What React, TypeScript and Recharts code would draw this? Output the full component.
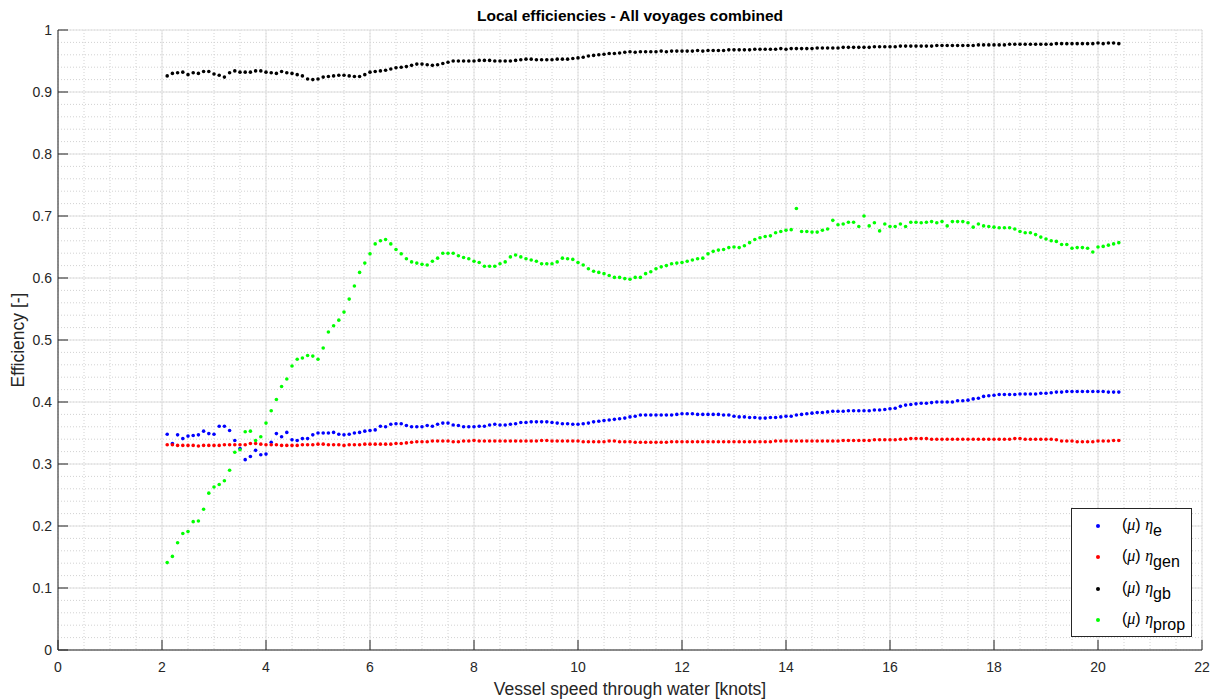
import React from 'react';
import { CartesianGrid, Legend, Scatter, ScatterChart, XAxis, YAxis } from 'recharts';

// speed bins [knots]
const speed = [
  2.1, 2.2, 2.3, 2.4, 2.5, 2.6, 2.7, 2.8, 2.9, 3.0,
  3.1, 3.2, 3.3, 3.4, 3.5, 3.6, 3.7, 3.8, 3.9, 4.0,
  4.1, 4.2, 4.3, 4.4, 4.5, 4.6, 4.7, 4.8, 4.9, 5.0,
  5.1, 5.2, 5.3, 5.4, 5.5, 5.6, 5.7, 5.8, 5.9, 6.0,
  6.1, 6.2, 6.3, 6.4, 6.5, 6.6, 6.7, 6.8, 6.9, 7.0,
  7.1, 7.2, 7.3, 7.4, 7.5, 7.6, 7.7, 7.8, 7.9, 8.0,
  8.1, 8.2, 8.3, 8.4, 8.5, 8.6, 8.7, 8.8, 8.9, 9.0,
  9.1, 9.2, 9.3, 9.4, 9.5, 9.6, 9.7, 9.8, 9.9, 10.0,
  10.1, 10.2, 10.3, 10.4, 10.5, 10.6, 10.7, 10.8, 10.9, 11.0,
  11.1, 11.2, 11.3, 11.4, 11.5, 11.6, 11.7, 11.8, 11.9, 12.0,
  12.1, 12.2, 12.3, 12.4, 12.5, 12.6, 12.7, 12.8, 12.9, 13.0,
  13.1, 13.2, 13.3, 13.4, 13.5, 13.6, 13.7, 13.8, 13.9, 14.0,
  14.1, 14.2, 14.3, 14.4, 14.5, 14.6, 14.7, 14.8, 14.9, 15.0,
  15.1, 15.2, 15.3, 15.4, 15.5, 15.6, 15.7, 15.8, 15.9, 16.0,
  16.1, 16.2, 16.3, 16.4, 16.5, 16.6, 16.7, 16.8, 16.9, 17.0,
  17.1, 17.2, 17.3, 17.4, 17.5, 17.6, 17.7, 17.8, 17.9, 18.0,
  18.1, 18.2, 18.3, 18.4, 18.5, 18.6, 18.7, 18.8, 18.9, 19.0,
  19.1, 19.2, 19.3, 19.4, 19.5, 19.6, 19.7, 19.8, 19.9, 20.0,
  20.1, 20.2, 20.3, 20.4,
];

// (mu) eta_e
const etaE = [
  0.348, 0.333, 0.347, 0.341, 0.345, 0.346, 0.347, 0.353, 0.349, 0.348,
  0.361, 0.361, 0.354, 0.338, 0.325, 0.307, 0.312, 0.322, 0.315, 0.316,
  0.335, 0.349, 0.344, 0.351, 0.339, 0.338, 0.341, 0.341, 0.347, 0.350,
  0.350, 0.350, 0.351, 0.348, 0.347, 0.348, 0.350, 0.351, 0.353, 0.354,
  0.355, 0.361, 0.360, 0.364, 0.365, 0.365, 0.362, 0.360, 0.360, 0.360,
  0.362, 0.361, 0.364, 0.366, 0.366, 0.363, 0.362, 0.360, 0.360, 0.360,
  0.361, 0.361, 0.363, 0.364, 0.363, 0.363, 0.364, 0.365, 0.367, 0.367,
  0.368, 0.368, 0.368, 0.368, 0.367, 0.366, 0.365, 0.365, 0.364, 0.364,
  0.365, 0.366, 0.368, 0.369, 0.370, 0.371, 0.372, 0.373, 0.374, 0.376,
  0.377, 0.379, 0.379, 0.379, 0.379, 0.379, 0.379, 0.379, 0.380, 0.381,
  0.381, 0.381, 0.380, 0.380, 0.380, 0.380, 0.380, 0.379, 0.379, 0.377,
  0.376, 0.376, 0.375, 0.375, 0.374, 0.374, 0.375, 0.375, 0.376, 0.377,
  0.377, 0.379, 0.380, 0.381, 0.382, 0.383, 0.383, 0.384, 0.385, 0.385,
  0.385, 0.386, 0.386, 0.386, 0.386, 0.386, 0.387, 0.387, 0.388, 0.389,
  0.390, 0.393, 0.395, 0.396, 0.397, 0.398, 0.398, 0.399, 0.400, 0.400,
  0.400, 0.400, 0.402, 0.402, 0.403, 0.405, 0.406, 0.409, 0.410, 0.411,
  0.412, 0.412, 0.412, 0.412, 0.413, 0.413, 0.413, 0.413, 0.414, 0.414,
  0.415, 0.416, 0.416, 0.417, 0.417, 0.417, 0.417, 0.417, 0.417, 0.417,
  0.417, 0.416, 0.416, 0.416,
];

// (mu) eta_gen
const etaGen = [
  0.331, 0.331, 0.330, 0.330, 0.330, 0.330, 0.329, 0.330, 0.330, 0.330,
  0.330, 0.331, 0.331, 0.331, 0.331, 0.331, 0.333, 0.333, 0.332, 0.331,
  0.331, 0.331, 0.330, 0.330, 0.330, 0.330, 0.331, 0.331, 0.331, 0.332,
  0.332, 0.331, 0.331, 0.331, 0.330, 0.331, 0.331, 0.331, 0.332, 0.332,
  0.332, 0.332, 0.332, 0.332, 0.333, 0.333, 0.334, 0.335, 0.336, 0.336,
  0.336, 0.337, 0.337, 0.337, 0.337, 0.336, 0.336, 0.337, 0.337, 0.338,
  0.337, 0.337, 0.337, 0.337, 0.337, 0.337, 0.337, 0.337, 0.337, 0.337,
  0.337, 0.337, 0.338, 0.338, 0.337, 0.337, 0.337, 0.337, 0.337, 0.337,
  0.336, 0.336, 0.336, 0.336, 0.336, 0.337, 0.337, 0.336, 0.336, 0.336,
  0.335, 0.335, 0.335, 0.335, 0.335, 0.335, 0.335, 0.336, 0.336, 0.336,
  0.336, 0.336, 0.336, 0.336, 0.336, 0.336, 0.336, 0.336, 0.336, 0.336,
  0.336, 0.336, 0.336, 0.336, 0.336, 0.336, 0.336, 0.337, 0.337, 0.337,
  0.337, 0.337, 0.337, 0.337, 0.337, 0.337, 0.337, 0.337, 0.337, 0.337,
  0.338, 0.338, 0.338, 0.338, 0.338, 0.338, 0.339, 0.339, 0.339, 0.339,
  0.339, 0.340, 0.340, 0.341, 0.341, 0.341, 0.341, 0.340, 0.340, 0.340,
  0.340, 0.340, 0.340, 0.340, 0.340, 0.340, 0.340, 0.340, 0.340, 0.340,
  0.340, 0.340, 0.340, 0.341, 0.341, 0.340, 0.340, 0.340, 0.340, 0.340,
  0.340, 0.339, 0.337, 0.337, 0.337, 0.336, 0.336, 0.336, 0.336, 0.337,
  0.337, 0.337, 0.338, 0.338,
];

// (mu) eta_gb
const etaGb = [
  0.926, 0.930, 0.931, 0.932, 0.928, 0.931, 0.930, 0.933, 0.933, 0.929,
  0.927, 0.924, 0.931, 0.934, 0.932, 0.932, 0.932, 0.934, 0.934, 0.932,
  0.931, 0.930, 0.933, 0.931, 0.930, 0.928, 0.926, 0.921, 0.920, 0.921,
  0.924, 0.925, 0.926, 0.927, 0.927, 0.926, 0.925, 0.925, 0.928, 0.932,
  0.933, 0.934, 0.935, 0.937, 0.939, 0.940, 0.941, 0.943, 0.945, 0.945,
  0.944, 0.943, 0.944, 0.946, 0.948, 0.950, 0.950, 0.950, 0.950, 0.950,
  0.951, 0.951, 0.951, 0.950, 0.950, 0.950, 0.950, 0.951, 0.952, 0.953,
  0.953, 0.952, 0.952, 0.952, 0.952, 0.953, 0.953, 0.953, 0.954, 0.955,
  0.956, 0.958, 0.959, 0.960, 0.961, 0.962, 0.962, 0.963, 0.964, 0.965,
  0.964, 0.965, 0.965, 0.965, 0.965, 0.966, 0.965, 0.966, 0.966, 0.966,
  0.966, 0.966, 0.967, 0.966, 0.967, 0.967, 0.967, 0.967, 0.968, 0.968,
  0.968, 0.968, 0.968, 0.969, 0.969, 0.969, 0.969, 0.969, 0.970, 0.969,
  0.970, 0.970, 0.970, 0.970, 0.970, 0.971, 0.971, 0.971, 0.971, 0.971,
  0.972, 0.972, 0.972, 0.972, 0.972, 0.972, 0.973, 0.973, 0.973, 0.973,
  0.973, 0.974, 0.974, 0.974, 0.974, 0.974, 0.974, 0.974, 0.975, 0.975,
  0.975, 0.975, 0.975, 0.975, 0.975, 0.975, 0.976, 0.976, 0.976, 0.976,
  0.976, 0.976, 0.977, 0.977, 0.977, 0.977, 0.977, 0.977, 0.977, 0.977,
  0.977, 0.978, 0.978, 0.978, 0.978, 0.978, 0.978, 0.978, 0.978, 0.979,
  0.978, 0.979, 0.979, 0.978,
];

// (mu) eta_prop
const etaProp = [
  0.141, 0.151, 0.173, 0.188, 0.191, 0.207, 0.208, 0.227, 0.253, 0.263,
  0.267, 0.273, 0.290, 0.319, 0.323, 0.352, 0.353, 0.338, 0.344, 0.366,
  0.386, 0.404, 0.425, 0.437, 0.458, 0.469, 0.471, 0.475, 0.474, 0.469,
  0.487, 0.513, 0.523, 0.532, 0.545, 0.566, 0.587, 0.609, 0.624, 0.639,
  0.655, 0.660, 0.662, 0.655, 0.646, 0.639, 0.631, 0.626, 0.624, 0.622,
  0.621, 0.627, 0.632, 0.640, 0.640, 0.640, 0.636, 0.633, 0.631, 0.627,
  0.625, 0.619, 0.619, 0.619, 0.623, 0.626, 0.634, 0.637, 0.634, 0.631,
  0.629, 0.627, 0.623, 0.623, 0.623, 0.626, 0.632, 0.631, 0.630, 0.625,
  0.621, 0.615, 0.611, 0.609, 0.607, 0.604, 0.601, 0.601, 0.599, 0.598,
  0.601, 0.601, 0.607, 0.610, 0.615, 0.618, 0.620, 0.623, 0.624, 0.625,
  0.627, 0.629, 0.631, 0.632, 0.639, 0.643, 0.645, 0.646, 0.649, 0.650,
  0.649, 0.652, 0.657, 0.662, 0.665, 0.667, 0.668, 0.673, 0.675, 0.677,
  0.678, 0.712, 0.675, 0.675, 0.674, 0.674, 0.677, 0.679, 0.693, 0.686,
  0.687, 0.690, 0.690, 0.683, 0.700, 0.684, 0.689, 0.676, 0.687, 0.683,
  0.683, 0.687, 0.683, 0.690, 0.690, 0.689, 0.690, 0.691, 0.689, 0.691,
  0.684, 0.691, 0.691, 0.691, 0.689, 0.682, 0.687, 0.684, 0.683, 0.682,
  0.681, 0.681, 0.681, 0.679, 0.675, 0.673, 0.673, 0.670, 0.666, 0.663,
  0.660, 0.659, 0.654, 0.654, 0.648, 0.649, 0.649, 0.648, 0.642, 0.650,
  0.651, 0.653, 0.655, 0.657,
];

const xTicks = [0, 2, 4, 6, 8, 10, 12, 14, 16, 18, 20, 22];
const yTicks = [0, 0.1, 0.2, 0.3, 0.4, 0.5, 0.6, 0.7, 0.8, 0.9, 1];
// minor grid every 0.5 kn / 0.02
const xMinor = Array.from({ length: 45 }, (_, i) => i * 0.5);
const yMinor = Array.from({ length: 51 }, (_, i) => +(i * 0.02).toFixed(2));

const series = [
  { name: 'e', values: etaE, color: '#0000ff' },
  { name: 'gen', values: etaGen, color: '#ff0000' },
  { name: 'gb', values: etaGb, color: '#000000' },
  { name: 'prop', values: etaProp, color: '#00ff00' },
];

const FONT = '"Liberation Sans", Arial, Helvetica, sans-serif';
const AXIS = '#262626';

const toPoints = (vals: number[]) => speed.map((x, i) => ({ x, y: vals[i] }));

const dotShape = (color: string) => (p: any) =>
  <circle cx={p.cx} cy={p.cy} r={1.8} fill={color} />;

function LegendBox() {
  return (
    <div
      style={{
        width: 121,
        height: 129,
        boxSizing: 'border-box',
        border: '1px solid #262626',
        background: '#fff',
        position: 'relative',
        fontFamily: FONT,
        color: '#000',
      }}
    >
      {series.map((s, i) => (
        <div
          key={s.name}
          style={{ position: 'absolute', left: 0, top: 17 + i * 31.4 - 12, height: 24, width: 119 }}
        >
          <span
            style={{
              position: 'absolute', left: 24, top: 10, width: 4, height: 4,
              borderRadius: 2, background: s.color,
            }}
          />
          <span style={{ position: 'absolute', left: 50, top: 1, fontSize: 16, whiteSpace: 'nowrap', lineHeight: '20px' }}>
            (<i style={{ fontFamily: '"Liberation Serif", serif' }}>μ</i>){' '}
            <i style={{ fontFamily: '"Liberation Serif", serif' }}>η</i>
            <span style={{ position: 'relative', top: 6, fontSize: 16 }}>{s.name}</span>
          </span>
        </div>
      ))}
    </div>
  );
}

export default function App() {
  return (
    <div style={{ position: 'absolute', left: 0, top: 0, width: 1220, height: 699, background: '#fff' }}>
      <div
        style={{
          position: 'absolute', left: 58, top: 7, width: 1144, textAlign: 'center',
          fontFamily: FONT, fontWeight: 'bold', fontSize: 15.5, color: '#000', zIndex: 2,
        }}
      >
        Local efficiencies - All voyages combined
      </div>
      <ScatterChart width={1220} height={699} margin={{ top: 30, right: 18, bottom: 0, left: 0 }}>
        <CartesianGrid
          horizontalValues={yMinor}
          verticalValues={xMinor}
          stroke="#d2d2d2"
          strokeDasharray="1 2"
        />
        <CartesianGrid stroke="#e0e0e0" />
        <XAxis
          type="number"
          dataKey="x"
          domain={[0, 22]}
          ticks={xTicks}
          interval={0}
          height={49}
          tickSize={-10}
          tickMargin={22}
          axisLine={{ stroke: AXIS }}
          tickLine={{ stroke: AXIS }}
          tick={{ fill: AXIS, fontSize: 14, fontFamily: FONT }}
          label={{
            value: 'Vessel speed through water [knots]',
            position: 'insideBottom',
            offset: 4,
            style: { fill: AXIS, fontSize: 17.5, fontFamily: FONT },
          }}
        />
        <YAxis
          type="number"
          dataKey="y"
          domain={[0, 1]}
          ticks={yTicks}
          interval={0}
          width={58}
          tickSize={-10}
          tickMargin={16}
          axisLine={{ stroke: AXIS }}
          tickLine={{ stroke: AXIS }}
          tick={{ fill: AXIS, fontSize: 14, fontFamily: FONT }}
          label={{
            value: 'Efficiency [-]',
            angle: -90,
            position: 'insideLeft',
            offset: 18,
            style: { textAnchor: 'middle', fill: AXIS, fontSize: 17.5, fontFamily: FONT },
          }}
        />
        {series.map((s) => (
          <Scatter
            key={s.name}
            name={s.name}
            data={toPoints(s.values)}
            fill={s.color}
            shape={dotShape(s.color)}
            isAnimationActive={false}
          />
        ))}
        <Legend
          layout="vertical"
          align="center"
          verticalAlign="middle"
          content={() => <LegendBox />}
          wrapperStyle={{ left: 1071, top: 508, width: 121, height: 129 }}
        />
      </ScatterChart>
    </div>
  );
}
